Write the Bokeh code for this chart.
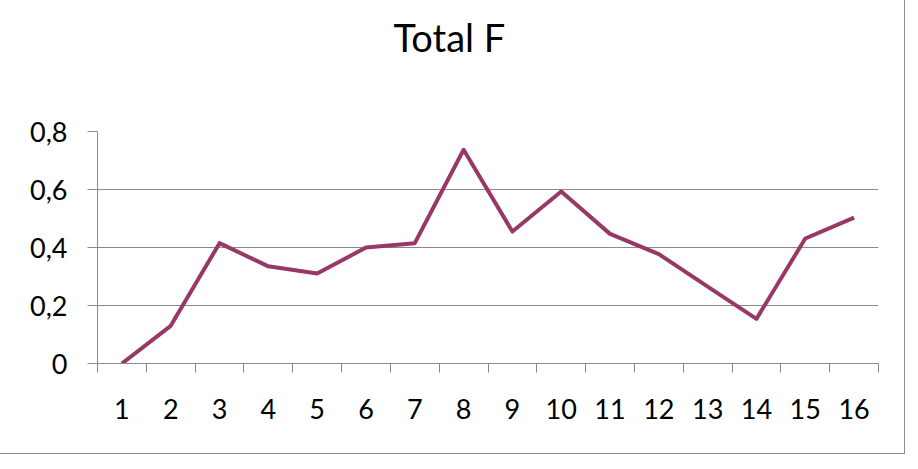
from bokeh.plotting import figure
from bokeh.models import FixedTicker, Range1d, Title
from bokeh.embed import file_html
from bokeh.resources import INLINE

categories = [str(i) for i in range(1, 17)]
values = [0.0, 0.13, 0.415, 0.335, 0.31, 0.40, 0.415, 0.737, 0.455, 0.593,
          0.447, 0.377, 0.265, 0.154, 0.431, 0.503]
y_ticks = [0, 0.2, 0.4, 0.6, 0.8]
y_tick_labels = ["0", "0,2", "0,4", "0,6", "0,8"]
title_text = "Total F"

xs = list(range(1, len(categories) + 1))
FONT = "Lato"
GRID = "#8a8a8a"

p = figure(width=908, height=458, output_backend="svg", toolbar_location=None,
           x_range=Range1d(0.5, len(categories) + 0.5), y_range=Range1d(0, 0.8),
           min_border_left=99, min_border_right=28, min_border_top=134,
           min_border_bottom=92, title=None)
p.styles = {"border": "1px solid #8c8c8c", "margin-left": "-3px", "margin-top": "-4px"}
p.outline_line_color = None
p.background_fill_color = "white"
p.border_fill_color = "white"

# spacer between frame and title (nearest the frame)
p.add_layout(Title(text=" ", text_font_size="1px", standoff=51), "above")
main_title = Title(text=title_text, align="left", vertical_align="top",
                   text_font=FONT, text_font_size="38px", text_font_style="normal",
                   text_color="black", standoff=32, offset=296)
p.add_layout(main_title, "above")

p.line(xs, values, line_color="#983867", line_width=4, line_join="round")

p.xaxis.ticker = FixedTicker(ticks=xs, minor_ticks=[x - 0.5 for x in xs] + [xs[-1] + 0.5])
p.xaxis.major_label_overrides = {x: c for x, c in zip(xs, categories)}
p.xaxis.major_tick_line_color = None
p.xaxis.major_tick_out = 0
p.xaxis.major_tick_in = 0
p.xaxis.minor_tick_line_color = GRID
p.xaxis.minor_tick_out = 9
p.xaxis.minor_tick_in = 0
p.xaxis.axis_line_color = GRID
p.xaxis.major_label_standoff = 26

p.yaxis.ticker = FixedTicker(ticks=y_ticks)
p.yaxis.major_label_overrides = {t: l for t, l in zip(y_ticks, y_tick_labels)}
p.yaxis.major_tick_line_color = GRID
p.yaxis.major_tick_out = 10
p.yaxis.major_tick_in = 0
p.yaxis.minor_tick_line_color = None
p.yaxis.axis_line_color = GRID
p.yaxis.major_label_standoff = 20

for ax in (p.xaxis, p.yaxis):
    ax.major_label_text_font = FONT
    ax.major_label_text_font_size = "27px"
    ax.major_label_text_color = "black"

p.xgrid.grid_line_color = None
p.ygrid.grid_line_color = GRID
p.ygrid.ticker = FixedTicker(ticks=y_ticks[1:])

open("out.html", "w").write(file_html(p, INLINE))
